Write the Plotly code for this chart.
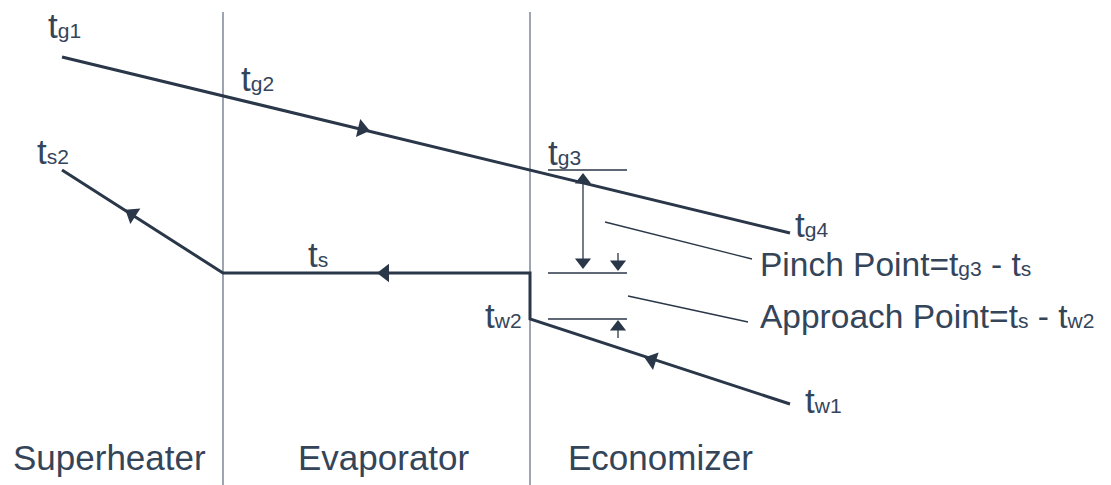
import math
import plotly.graph_objects as go

# ---- diagram data (pixel-like coordinate system, y downward) ----
section_names = ["Superheater", "Evaporator", "Economizer"]
section_label_x = [11, 296, 566]
section_label_y = [457, 457, 457]
divider_x = [223, 530]
divider_top = [12, 12]
divider_bottom = [485, 485]

gas_x = [62, 223, 530, 790]
gas_y = [57, 96, 170, 233]

water_x = [790, 530, 530, 223, 62]
water_y = [404, 319, 273, 273, 170]

ref_line_x0 = [548, 548, 548]
ref_line_x1 = [627, 627, 627]
ref_line_y = [170, 273, 319]

leader_x0 = [605, 628]
leader_y0 = [222, 296]
leader_x1 = [752, 748]
leader_y1 = [259, 322]

# flow arrows: head centre and a point the arrow comes from
flow_head_x = [362, 132, 385, 652]
flow_head_y = [129, 214, 273, 360]
flow_from_x = [223, 223, 530, 790]
flow_from_y = [96, 273, 273, 404]

# dimension arrows: shaft (x, y0 -> y1), head at y1
dim_x = [583, 583, 618, 618]
dim_y0 = [222, 222, 253, 338]
dim_y1 = [180, 262, 264, 327]

labels_main = ["t", "t", "t", "t", "t", "t", "t", "t"]
labels_sub = ["g1", "g2", "s2", "s", "g3", "g4", "w2", "w1"]
labels_x = [46, 239, 35, 306, 546, 793, 483, 803]
labels_y = [25, 78, 151, 254, 152, 224, 315, 400]

note_texts = [
    ("Pinch Point=t", "g3", " - t", "s"),
    ("Approach Point=t", "s", " - t", "w2"),
]
note_x = [758, 758]
note_y = [264, 316]

LINE = "#2a3749"
GRAY = "#7d8896"
TEXT = "#34455a"

fig = go.Figure()

# dividers
for x, y0, y1 in zip(divider_x, divider_top, divider_bottom):
    fig.add_trace(go.Scatter(x=[x, x], y=[y0, y1], mode="lines",
                             line=dict(color=GRAY, width=1.5), hoverinfo="skip"))

# gas line
fig.add_trace(go.Scatter(x=gas_x, y=gas_y, mode="lines",
                         line=dict(color=LINE, width=3), hoverinfo="skip"))
# water / steam line
fig.add_trace(go.Scatter(x=water_x, y=water_y, mode="lines",
                         line=dict(color=LINE, width=3), hoverinfo="skip"))

# reference horizontal lines
for x0, x1, y in zip(ref_line_x0, ref_line_x1, ref_line_y):
    fig.add_trace(go.Scatter(x=[x0, x1], y=[y, y], mode="lines",
                             line=dict(color=LINE, width=1.3), hoverinfo="skip"))

# leader lines
for x0, y0, x1, y1 in zip(leader_x0, leader_y0, leader_x1, leader_y1):
    fig.add_trace(go.Scatter(x=[x0, x1], y=[y0, y1], mode="lines",
                             line=dict(color=LINE, width=1.3), hoverinfo="skip"))

# flow arrow heads
angles = []
for hx, hy, fx, fy in zip(flow_head_x, flow_head_y, flow_from_x, flow_from_y):
    dx, dy = hx - fx, hy - fy
    angles.append(math.degrees(math.atan2(dx, -dy)))
fig.add_trace(go.Scatter(x=flow_head_x, y=flow_head_y, mode="markers",
                         marker=dict(symbol="triangle-up", size=16, color=LINE,
                                     angle=angles, line=dict(width=0)),
                         hoverinfo="skip"))

# dimension arrows
dim_angles = []
for x, y0, y1 in zip(dim_x, dim_y0, dim_y1):
    fig.add_trace(go.Scatter(x=[x, x], y=[y0, y1], mode="lines",
                             line=dict(color=LINE, width=1.3), hoverinfo="skip"))
    dim_angles.append(0 if y1 < y0 else 180)
fig.add_trace(go.Scatter(x=dim_x, y=dim_y1, mode="markers",
                         marker=dict(symbol="triangle-up", size=14, color=LINE,
                                     angle=dim_angles, line=dict(width=0)),
                         hoverinfo="skip"))

FONT = "Liberation Sans, Arial, sans-serif"

annotations = []
for m, s, x, y in zip(labels_main, labels_sub, labels_x, labels_y):
    annotations.append(dict(
        x=x, y=y, xref="x", yref="y", xanchor="left", yanchor="middle",
        text=f"{m}<span style='font-size:21px'>{s}</span>",
        showarrow=False, font=dict(family=FONT, size=35, color=TEXT)))

for (a, b, c, d), x, y in zip(note_texts, note_x, note_y):
    annotations.append(dict(
        x=x, y=y, xref="x", yref="y", xanchor="left", yanchor="middle",
        text=f"{a}<span style='font-size:21px'>{b}</span>{c}<span style='font-size:21px'>{d}</span>",
        showarrow=False, font=dict(family=FONT, size=33.5, color=TEXT)))

for name, x, y in zip(section_names, section_label_x, section_label_y):
    annotations.append(dict(
        x=x, y=y, xref="x", yref="y", xanchor="left", yanchor="middle",
        text=name, showarrow=False, font=dict(family=FONT, size=35, color=TEXT)))

fig.update_layout(
    width=1111, height=485, autosize=False,
    margin=dict(l=0, r=0, t=0, b=0),
    paper_bgcolor="white", plot_bgcolor="white",
    showlegend=False,
    xaxis=dict(range=[0, 1111], visible=False, fixedrange=True),
    yaxis=dict(range=[485, 0], visible=False, fixedrange=True),
    annotations=annotations,
)

fig.write_html("out.html", config={"displayModeBar": False},
               post_script="document.body.style.margin='0';")
